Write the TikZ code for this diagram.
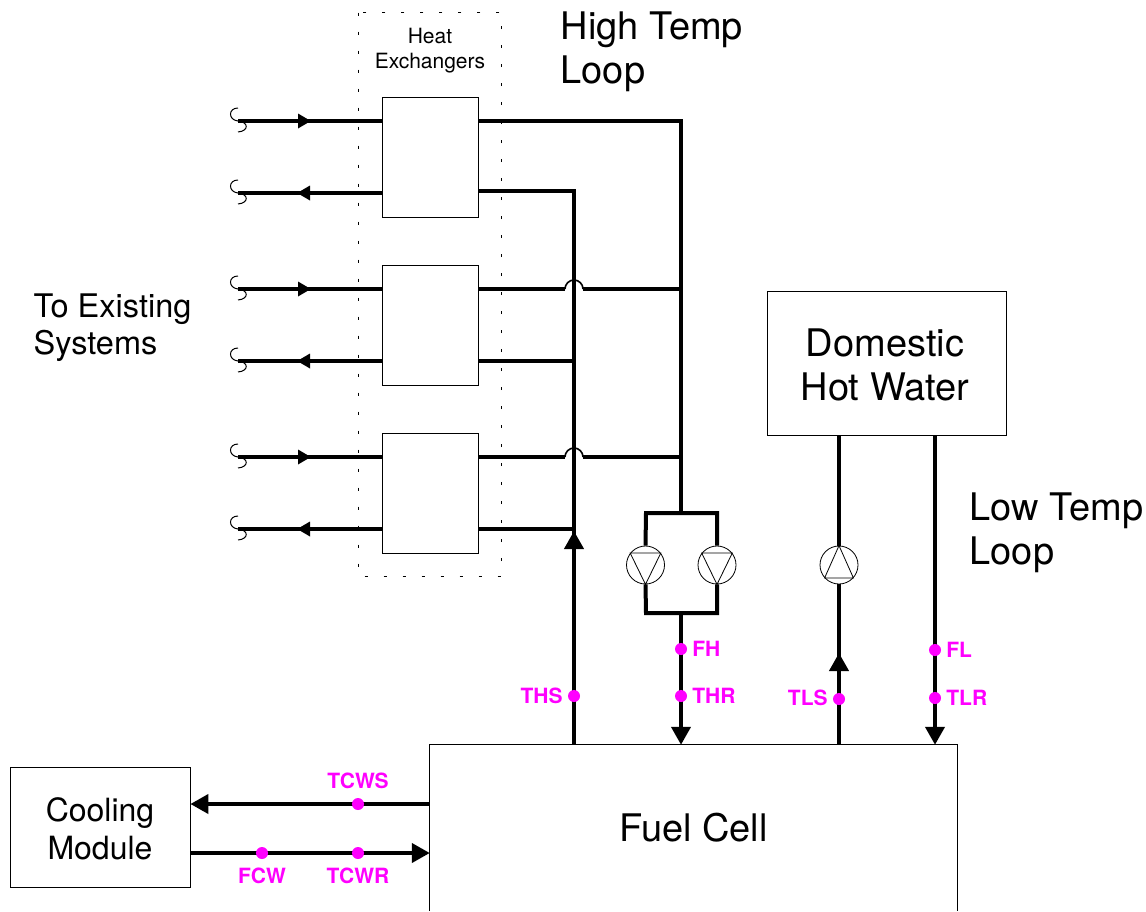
\documentclass[tikz,border=0pt]{standalone}
\usepackage{fontspec}
\setmainfont{TeX Gyre Heros}
\usetikzlibrary{positioning,arrows.meta}
\definecolor{probecolor}{RGB}{255,0,255}
\tikzset{
  pipe/.style={line width=4pt},
  hop/.style={line width=1.6pt},
  breakline/.style={line width=1pt},
  thinbox/.style={draw,line width=0.8pt,inner sep=0pt},
  hxbox/.style={thinbox,minimum width=96pt,minimum height=120pt},
  pump/.style={circle,draw,fill=white,line width=0.8pt,inner sep=0pt,minimum size=38pt},
  probe/.style={circle,fill=probecolor,inner sep=0pt,minimum size=12pt},
  probetext/.style={text=probecolor,font=\fontsize{21}{21}\selectfont\bfseries,inner sep=0pt},
  bigtext/.style={font=\fontsize{38}{44}\selectfont,align=left,inner sep=0pt},
  smallhead/.style={-{Triangle[length=13pt,width=14pt]}},
  bighead/.style={-{Triangle[length=18pt,width=19pt]}}
}
\begin{document}
\begin{tikzpicture}[x=1pt,y=-1pt]
\useasboundingbox (0,0) rectangle (1146,911);
\draw[line width=0.8pt,dash pattern=on 3.5pt off 15.5pt] (358,12.5) rectangle (501.7,576);
\node[font=\fontsize{21}{25}\selectfont,align=center,inner sep=0pt] (hxtext) at (430,50.5) {Heat\\Exchangers};
\node[bigtext,anchor=west] (hightext) at (560.5,52) {High Temp\\Loop};
\node[bigtext,anchor=west] (lowtext) at (969.5,533) {Low Temp\\Loop};
\node[font=\fontsize{32.5}{37}\selectfont,align=left,inner sep=0pt,anchor=west] (existtext) at (33.5,328) {To Existing\\Systems};

\node[hxbox] (hx1) at (430,157) {};
\node[hxbox] (hx2) at (430,325) {};
\node[hxbox] (hx3) at (430,493) {};
\node[thinbox,minimum width=239pt,minimum height=144pt] (dhw) at (886.5,363) {};
\node[bigtext,align=center] (dhwtext) at (885,365) {Domestic\\Hot Water};
\node[thinbox,minimum width=180pt,minimum height=120pt] (cool) at (100,827) {};
\node[align=center,inner sep=0pt,font=\fontsize{32}{38}\selectfont] (cooltext) at (100,828.5) {Cooling\\Module};
\node[minimum width=527pt,minimum height=166pt,inner sep=0pt,bigtext,align=center] (fuel) at (693.5,828) {Fuel Cell};
\draw[line width=0.8pt] (fuel.south west)--(fuel.north west)--(fuel.north east)--(fuel.south east);

\coordinate (s1) at (238,121);
\coordinate (s2) at (238,193);
\coordinate (s3) at (238,289);
\coordinate (s4) at (238,361);
\coordinate (s5) at (238,457);
\coordinate (s6) at (238,529);
\draw[pipe] (s1)--(hx1.west |- s1);
\draw[pipe] (hx1.west |- s2)--(s2);
\draw[pipe] (s3)--(hx2.west |- s3);
\draw[pipe] (hx2.west |- s4)--(s4);
\draw[pipe] (s5)--(hx3.west |- s5);
\draw[pipe] (hx3.west |- s6)--(s6);
\draw[pipe,smallhead] (s1)--(311,121);
\draw[pipe,smallhead] (hx1.west |- s2)--(297,193);
\draw[pipe,smallhead] (s3)--(311,289);
\draw[pipe,smallhead] (hx2.west |- s4)--(297,361);
\draw[pipe,smallhead] (s5)--(311,457);
\draw[pipe,smallhead] (hx3.west |- s6)--(297,529);
\draw[breakline] (s1) ++(0,-13) .. controls +(-10,0) and +(-10,-1) .. (s1) .. controls +(11,1) and +(11,-1) .. ++(0,11);
\draw[breakline] (s2) ++(0,-13) .. controls +(-10,0) and +(-10,-1) .. (s2) .. controls +(11,1) and +(11,-1) .. ++(0,11);
\draw[breakline] (s3) ++(0,-13) .. controls +(-10,0) and +(-10,-1) .. (s3) .. controls +(11,1) and +(11,-1) .. ++(0,11);
\draw[breakline] (s4) ++(0,-13) .. controls +(-10,0) and +(-10,-1) .. (s4) .. controls +(11,1) and +(11,-1) .. ++(0,11);
\draw[breakline] (s5) ++(0,-13) .. controls +(-10,0) and +(-10,-1) .. (s5) .. controls +(11,1) and +(11,-1) .. ++(0,11);
\draw[breakline] (s6) ++(0,-13) .. controls +(-10,0) and +(-10,-1) .. (s6) .. controls +(11,1) and +(11,-1) .. ++(0,11);

\coordinate (hs) at (574,190.5);
\coordinate (hr) at (681,121);
\coordinate (split) at (681,513);
\coordinate (join) at (681,613);
\coordinate (hsjoin) at (574,529);
\draw[pipe] (hx1.east |- hr)--(hr)--(split);
\draw[pipe] (hx1.east |- hs)--(hs)--(hsjoin);
\draw[pipe] (fuel.north -| hs)--(hsjoin);
\draw[pipe,bighead] (fuel.north -| hs)--(574,531);
\draw[pipe] (hx2.east |- 0,289)--(565,289);
\draw[hop] (565,289) arc[start angle=180,end angle=360,radius=9];
\draw[pipe] (583,289)--(681,289);
\draw[pipe] (hx2.east |- 0,361)--(574,361);
\draw[pipe] (hx3.east |- 0,457)--(565,457);
\draw[hop] (565,457) arc[start angle=180,end angle=360,radius=9];
\draw[pipe] (583,457)--(681,457);
\draw[pipe] (hx3.east |- 0,529)--(hsjoin);

\node[pump] (p1) at (645.5,565) {};
\node[pump] (p2) at (717,565) {};
\node[pump] (p3) at (839,565) {};
\draw[pipe] (p1.north)--(646,513)--(717,513)--(p2.north);
\draw[pipe] (p1.south)--(646,613)--(717,613)--(p2.south);
\draw[line width=0.8pt] (p1.142)--(p1.38)--(p1.south)--cycle;
\draw[line width=0.8pt] (p2.142)--(p2.38)--(p2.south)--cycle;
\draw[line width=0.8pt] (p3.222)--(p3.318)--(p3.north)--cycle;
\draw[pipe,bighead] (join)--(fuel.north -| join);

\draw[pipe] (dhw.south -| p3)--(p3.north);
\draw[pipe] (p3.south)--(fuel.north -| p3);
\draw[pipe,bighead] (fuel.north -| p3)--(839,653);
\draw[pipe,bighead] (dhw.south -| 935,0)--(fuel.north -| 935,0);

\coordinate (cs) at (cool.east |- 0,804);
\coordinate (cr) at (cool.east |- 0,853);
\draw[pipe,bighead] (fuel.west |- cs)--(cs);
\draw[pipe,bighead] (cr)--(fuel.west |- cr);

\node[probe] (ths) at (574,696) {};
\node[probe] (fh) at (681,649) {};
\node[probe] (thr) at (681,696) {};
\node[probe] (tls) at (839,699) {};
\node[probe] (fl) at (935,650) {};
\node[probe] (tlr) at (935,698) {};
\node[probe] (tcws) at (358,804) {};
\node[probe] (fcw) at (262,853) {};
\node[probe] (tcwr) at (358,853) {};
\node[probetext,left=5pt of ths] (thstext) {THS};
\node[probetext,right=5pt of fh] (fhtext) {FH};
\node[probetext,right=5pt of thr] (thrtext) {THR};
\node[probetext,left=5pt of tls,yshift=1.5pt] (tlstext) {TLS};
\node[probetext,right=5pt of fl] (fltext) {FL};
\node[probetext,right=5pt of tlr] (tlrtext) {TLR};
\node[probetext,above=9pt of tcws] (tcwstext) {TCWS};
\node[probetext,below=9pt of fcw] (fcwtext) {FCW};
\node[probetext,below=9pt of tcwr] (tcwrtext) {TCWR};
\end{tikzpicture}
\end{document}
